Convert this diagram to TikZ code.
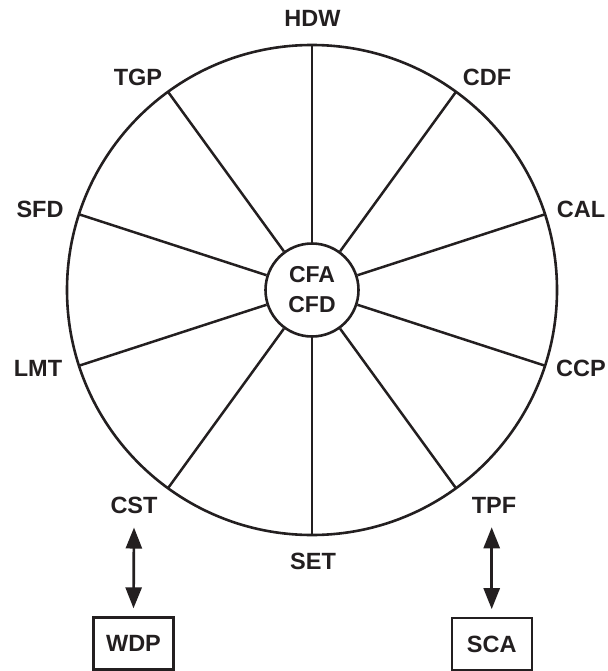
\documentclass[tikz,border=0pt]{standalone}
\usepackage{fontspec}
\setmainfont{Liberation Sans}
\usetikzlibrary{arrows.meta,calc}
\definecolor{ink}{RGB}{35,31,32}
\begin{document}
\begin{tikzpicture}[x=1pt,y=-1pt,
  lbl/.style={font=\bfseries\fontsize{23.5}{26}\selectfont, text=ink, inner sep=0pt},
  ring/.style={draw=ink, line width=2.6pt},
  spoke/.style={draw=ink, line width=2.5pt},
  boxnode/.style={draw=ink, line width=2.3pt, minimum width=80pt, minimum height=52pt, inner sep=0pt, font=\bfseries\fontsize{23.5}{26}\selectfont, text=ink},
  dbl/.style={draw=ink, line width=2.7pt, {Triangle[length=21pt,width=16pt]}-{Triangle[length=21pt,width=16pt]}}]
\useasboundingbox (0,0) rectangle (607,671);
\coordinate (O) at (312,290);
\draw[ring] (O) circle (245pt);
\node[ring, circle, minimum size=93pt, inner sep=0pt, align=center, font=\bfseries\fontsize{23}{30}\selectfont, text=ink] (C) at (O) {CFA\\CFD};
\foreach \a in {90,54,18,-18,-54,-90,-126,-162,162,126}{
  \draw[spoke] (C.\a) -- ($(O)+(\a:245pt)$);
}
\node[lbl] (HDW) at (312.5,18) {HDW};
\node[lbl] (TGP) at (138,77) {TGP};
\node[lbl] (CDF) at (487,77) {CDF};
\node[lbl] (SFD) at (40,209.5) {SFD};
\node[lbl] (CAL) at (581,209.5) {CAL};
\node[lbl] (LMT) at (38,368) {LMT};
\node[lbl] (CCP) at (581,368) {CCP};
\node[lbl] (CST) at (134,505.5) {CST};
\node[lbl] (TPF) at (494,505.5) {TPF};
\node[lbl] (SET) at (313,561) {SET};
\node[boxnode] (WDP) at (133.5,643.5) {WDP};
\node[boxnode] (SCA) at (491.7,644.3) {SCA};
\draw[dbl] ([yshift=-13.5pt]CST.south) -- ([yshift=8pt]WDP.north);
\draw[dbl] ([yshift=-13.5pt, xshift=-2.3pt]TPF.south) -- ([yshift=8pt]SCA.north);
\end{tikzpicture}
\end{document}
